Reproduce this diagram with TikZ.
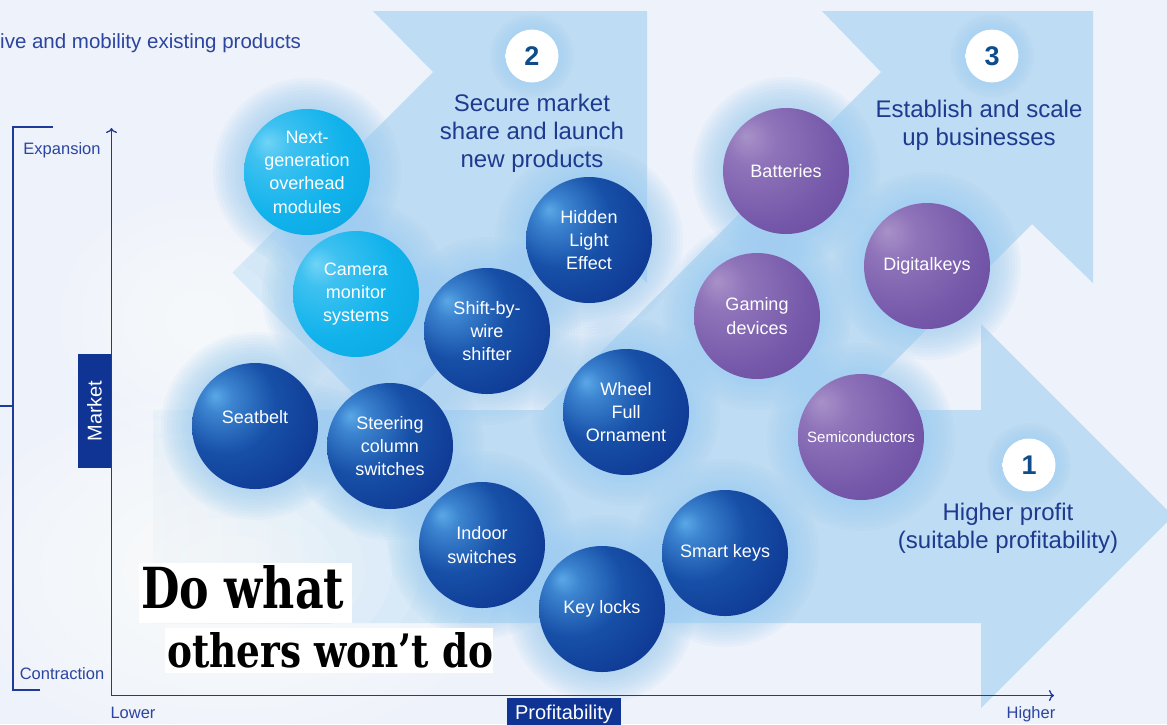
\documentclass[tikz,border=0pt]{standalone}
\usepackage{fontspec}
\setmainfont{Liberation Sans}
\newfontfamily\brushfont{DejaVu Serif}
\usetikzlibrary{arrows.meta,shadings}

\definecolor{bgc}{HTML}{EEF2FA}
\definecolor{arrc}{HTML}{BEDCF3}
\definecolor{navy}{HTML}{1E3A8E}
\definecolor{axisc}{HTML}{1E3A9A}
\definecolor{axc}{HTML}{2B45A0}
\definecolor{boxc}{HTML}{0F3494}
\definecolor{numc}{HTML}{0E4C8A}
\definecolor{haloc}{HTML}{9CCDF1}
% blue bubble
\definecolor{bb0}{HTML}{5AA8E6}
\definecolor{bb1}{HTML}{3C84D0}
\definecolor{bb2}{HTML}{1750A8}
\definecolor{bb3}{HTML}{0E3792}
\definecolor{bb4}{HTML}{1C2487}
\definecolor{bb5}{HTML}{262E92}
\definecolor{bb6}{HTML}{4653B4}
% cyan bubble
\definecolor{cb0}{HTML}{70D3F6}
\definecolor{cb1}{HTML}{3EC1F0}
\definecolor{cb2}{HTML}{12B3EC}
\definecolor{cb3}{HTML}{06A4E2}
\definecolor{cb4}{HTML}{0A8ED2}
\definecolor{cb5}{HTML}{3AA6DE}
% purple bubble
\definecolor{pb0}{HTML}{A891C8}
\definecolor{pb1}{HTML}{8F74BA}
\definecolor{pb2}{HTML}{7558A9}
\definecolor{pb3}{HTML}{65469E}
\definecolor{pb4}{HTML}{5E3E98}
\definecolor{pb5}{HTML}{8678C2}
% number ball
\definecolor{nb1}{HTML}{E2EEF9}
\definecolor{nb2}{HTML}{C8DFF3}

\pgfdeclareradialshading{bluebub}{\pgfpoint{-16bp}{12bp}}{color(0bp)=(bb0); color(6bp)=(bb1); color(20bp)=(bb2); color(38bp)=(bb3); color(55bp)=(bb4); color(64bp)=(bb5); color(71bp)=(bb6); color(80bp)=(bb6)}
\pgfdeclareradialshading{cyanbub}{\pgfpoint{-16bp}{12bp}}{color(0bp)=(cb0); color(8bp)=(cb1); color(25bp)=(cb2); color(45bp)=(cb3); color(62bp)=(cb4); color(71bp)=(cb5); color(80bp)=(cb5)}
\pgfdeclareradialshading{purpbub}{\pgfpoint{-16bp}{14bp}}{color(0bp)=(pb0); color(10bp)=(pb1); color(30bp)=(pb2); color(50bp)=(pb3); color(63bp)=(pb4); color(71bp)=(pb5); color(80bp)=(pb5)}
\pgfdeclareradialshading{numbub}{\pgfpoint{0bp}{12bp}}{color(0bp)=(white); color(32bp)=(white); color(52bp)=(nb1); color(62bp)=(nb2); color(80bp)=(nb2)}

\begin{document}
\begin{tikzpicture}[x=1pt,y=-1pt,
  bubtext/.style={text=white, font=\fontsize{18}{23.3}\selectfont, align=center, circle, minimum size=126pt, inner sep=0pt},
  bbl/.style={bubtext, shade, shading=bluebub},
  cbl/.style={bubtext, shade, shading=cyanbub},
  pbl/.style={bubtext, shade, shading=purpbub},
  numball/.style={circle, minimum size=53pt, inner sep=0pt, shade, shading=numbub, text=numc, font=\fontsize{27}{27}\selectfont\bfseries},
  titletext/.style={text=navy, font=\fontsize{24}{28}\selectfont, align=center, inner sep=0pt},
  axlab/.style={text=axc, font=\fontsize{16.5}{18}\selectfont, inner sep=0pt, anchor=base},
  axisline/.style={draw=axisc, line width=1.3pt},
  bracketline/.style={draw=axisc, line width=2.6pt},
  arrowfill/.style={fill=arrc},
  halolayer/.style={fill=haloc, opacity=0.085},
  glowlayer/.style={fill=white, opacity=0.13},
  labelbox/.style={fill=boxc, text=white, inner sep=0pt, font=\fontsize{20}{22}\selectfont}
]
\useasboundingbox (0,0) rectangle (1167,724);
\clip (0,0) rectangle (1167,724);
\fill[bgc] (0,0) rectangle (1167,724);

% big arrows
\fill[arrowfill] (330,410) -- (981,410) -- (981,324) -- (1173,516) -- (981,708) -- (981,623) -- (330,623) -- cycle;
\shade[left color=arrc!30!bgc, right color=arrc] (153,410) rectangle (331,623);
\fill[arrowfill] (647,11) -- (373,11) -- (433,72) -- (232.5,272.5) -- (384,424) -- (585,223) -- (647,283) -- cycle;
\fill[arrowfill] (1093,11) -- (822,11) -- (881,72) -- (543,410) -- (846,410) -- (1032,224) -- (1093,283) -- cycle;

% soft white glows
\foreach \s in {1.0,0.9,0.8,0.7,0.6,0.5,0.4,0.3,0.2}
  \fill[glowlayer] (230,570) ellipse [x radius={270*\s}, y radius={175*\s}];
\foreach \s in {1.0,0.85,0.7,0.55,0.4,0.25}
  \fill[glowlayer] (200,320) ellipse [x radius={140*\s}, y radius={120*\s}];

% halos
\foreach \hx/\hy in {307/172,356/294,589/240,487/331,255/426,390/446,626/412,482/545,602/609,725/553,786/171,757/316,927/266,861/437}
  \foreach \r in {64,67,...,94}
    \fill[halolayer] (\hx,\hy) circle [radius=\r];
\foreach \hx/\hy in {532/56,992/56,1029/465}
  \foreach \r in {28,30,...,42}
    \fill[halolayer] (\hx,\hy) circle [radius=\r];

% bracket and axes
\coordinate (bt) at (53,127);
\coordinate (btc) at (13,127);
\coordinate (bbc) at (13,690);
\coordinate (bb) at (40,690);
\coordinate (tickl) at (0,406);
\coordinate (tickr) at (13,406);
\draw[bracketline] (bt) -- (btc) -- (bbc) -- (bb);
\draw[bracketline] (tickl) -- (tickr);
\coordinate (O) at (111.5,695.5);
\coordinate (ytop) at (111.5,128);
\coordinate (xend) at (1054,695.5);
\draw[axisline, -{To[length=5pt,width=11pt]}] (O) -- (ytop);
\draw[axisline, -{To[length=5pt,width=11pt]}] (O) -- (xend);

% axis labels
\node[axlab] (expansion) at (62,154) {Expansion};
\node[axlab] (contraction) at (62,679) {Contraction};
\node[axlab] (lower) at (133,718) {Lower};
\node[axlab] (higher) at (1031,718) {Higher};
\node[labelbox, minimum width=114pt, minimum height=34pt] (profit) at (564,714.5) {Profitability};
\node[labelbox, rotate=90, minimum width=114pt, minimum height=33pt] (market) at (94.5,411) {Market};

% top-left text
\node[anchor=base west, inner sep=0pt, text=axc, font=\fontsize{20.5}{22}\selectfont] (existing) at (0,48) {ive and mobility existing products};

% titles
\node[numball] (n2) at (532,56) {2};
\node[numball] (n3) at (992,56) {3};
\node[numball] (n1) at (1029,465) {1};
\node[titletext] (t2) at (532,133) {Secure market\\share and launch\\new products};
\node[titletext] (t3) at (979,125) {Establish and scale\\up businesses};
\node[titletext] (t1) at (1008,528) {Higher profit\\(suitable profitability)};

% bubbles
\node[cbl] (ngom) at (307,172) {Next-\\generation\\overhead\\modules};
\node[cbl] (cms) at (356,294) {Camera\\monitor\\systems};
\node[bbl] (hle) at (589,240) {Hidden\\Light\\Effect};
\node[bbl] (sbw) at (487,331) {Shift-by-\\wire\\shifter};
\node[bbl] (seat) at (255,426) {\raisebox{9pt}[\height][\depth]{Seatbelt}};
\node[bbl] (scs) at (390,446) {Steering\\column\\switches};
\node[bbl] (wfo) at (626,412) {Wheel\\Full\\Ornament};
\node[bbl] (indoor) at (482,545) {Indoor\\switches};
\node[bbl] (keyl) at (602,609) {Key locks};
\node[bbl] (smart) at (725,553) {Smart keys};
\node[pbl] (batt) at (786,171) {Batteries};
\node[pbl] (game) at (757,316) {Gaming\\devices};
\node[pbl] (dkey) at (927,266) {Digitalkeys};
\node[pbl, font=\fontsize{15}{18}\selectfont] (semi) at (861,437) {Semiconductors};

% brush slogan
\fill[white] (139,563) rectangle (352,623);
\fill[white] (165,628) rectangle (493,673);
\node[anchor=base west, inner sep=0pt] (dowhat) at (141,608) {\resizebox{203pt}{43pt}{\brushfont\bfseries Do what}};
\node[anchor=base west, inner sep=0pt] (others) at (167,667) {\resizebox{326pt}{35pt}{\brushfont\bfseries others won’t do}};
\end{tikzpicture}
\end{document}
